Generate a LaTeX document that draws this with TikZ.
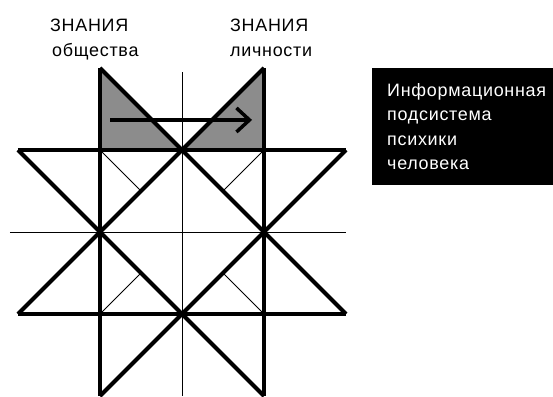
\documentclass[tikz,border=0pt]{standalone}
\usepackage{fontspec}
\setmainfont{Liberation Sans}
\newfontfamily\labelfont[LetterSpace=4]{Liberation Sans}
\usetikzlibrary{arrows.meta}

\begin{document}
\begin{tikzpicture}[
  x=82bp, y=82bp,
  heavy/.style={line width=4bp},
  fine/.style={line width=0.9bp},
  shade/.style={fill=black!45},
  caption/.style={font=\labelfont\fontsize{18}{25}\selectfont, inner sep=0pt},
  arr/.style={-{Straight Barb[length=13bp, width=24bp]}, line width=3.5bp},
]
  \useasboundingbox (-2.2195,-2) rectangle (4.524,2.829);

  % Shaded knowledge triangles
  \fill[shade] (-1,2) -- (-1,1) -- (0,1) -- cycle;
  \fill[shade] (1,2) -- (1,1) -- (0,1) -- cycle;

  % Axes
  \draw[fine] (0,1.95) -- (0,-2);
  \draw[fine] (-2.1,0) -- (2,0);

  % Thin diagonals in the inner squares
  \foreach \sx in {-1,1} {
    \foreach \sy in {-1,1} {
      \draw[fine] (\sx,\sy) -- (\sx/2,\sy/2);
    }
  }

  % Frame of the star
  \draw[heavy] (-2,1) -- (2,1) (-2,-1) -- (2,-1);
  \draw[heavy] (-1,2) -- (-1,-2) (1,2) -- (1,-2);
  \draw[heavy] (-1,2) -- (2,-1) (1,2) -- (-2,-1);
  \draw[heavy] (-1,-2) -- (2,1) (1,-2) -- (-2,1);

  % Transfer arrow
  \coordinate (from) at (-0.878,1.366);
  \coordinate (to) at (0.854,1.366);
  \draw[arr] (from) -- (to);

  % Labels
  \node[caption, anchor=base west] (knowS) at (-1.61,2.439) {ЗНАНИЯ};
  \node[caption, anchor=base west] (society) at (-1.585,2.134) {общества};
  \node[caption, anchor=base west] (knowP) at (0.585,2.439) {ЗНАНИЯ};
  \node[caption, anchor=base west] (person) at (0.585,2.134) {личности};

  % Info box
  \node[caption, fill=black, text=white, align=left, anchor=north west,
        inner xsep=15bp, inner ysep=0pt, minimum height=117bp,
        font=\labelfont\fontsize{18}{24.5}\selectfont]
    (infobox) at (2.317,2.0) {Информационная\\подсистема\\психики\\человека};
\end{tikzpicture}
\end{document}
